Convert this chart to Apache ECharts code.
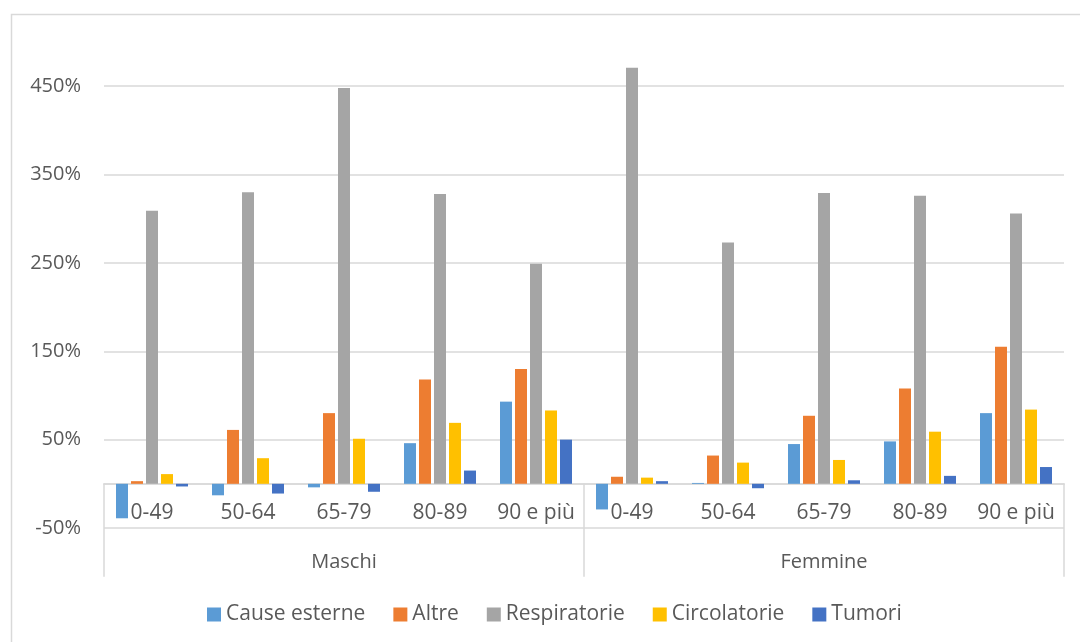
<!DOCTYPE html>
<html>
<head>
<meta charset="utf-8">
<script src="https://cdn.jsdelivr.net/npm/echarts@6/dist/echarts.min.js"></script>
<style>
  html, body { margin: 0; padding: 0; background: #ffffff; }
  #chart { width: 1080px; height: 642px; }
</style>
</head>
<body>
<div id="chart"></div>
<script>
// Age bands, repeated for each sex group
const ageBands = ['0-49', '50-64', '65-79', '80-89', '90 e più'];
const sexGroups = ['Maschi', 'Femmine'];
const categories = sexGroups.flatMap(() => ageBands);

// Percentage change by cause of death (Maschi first, then Femmine)
const causeEsterne = [-39, -13, -4, 46, 93, -29, 1, 45, 48, 80];
const altre        = [3, 61, 80, 118, 130, 8, 32, 77, 108, 155];
const respiratorie = [309, 330, 448, 328, 249, 471, 273, 329, 326, 306];
const circolatorie = [11, 29, 51, 69, 83, 7, 24, 27, 59, 84];
const tumori       = [-3, -11, -9, 15, 50, 3, -5, 4, 9, 19];

// Value-axis ticks
const yMin = -50;
const yMax = 500;
const yStep = 100;

const seriesDefs = [
  { name: 'Cause esterne', data: causeEsterne, color: '#5B9BD5' },
  { name: 'Altre',         data: altre,        color: '#ED7D31' },
  { name: 'Respiratorie',  data: respiratorie, color: '#A5A5A5' },
  { name: 'Circolatorie',  data: circolatorie, color: '#FFC000' },
  { name: 'Tumori',        data: tumori,       color: '#4472C4' }
];

const FONT = '"Open Sans", "Noto Sans", sans-serif';
const TXT = '#595959';
const LINE = '#d9d9d9';

const GRID_TOP = 42;
const GRID_BOTTOM_Y = 528;
// distance from the plot bottom (yMin) up to the zero line
const zeroLift = (GRID_BOTTOM_Y - GRID_TOP) * (0 - yMin) / (yMax - yMin);

const chart = echarts.init(document.getElementById('chart'), null, { renderer: 'canvas' });

// one colour per split line; the line at the axis maximum stays hidden
const splitColors = [];
for (let v = yMin; v < yMax; v += yStep) splitColors.push(LINE);
splitColors.push('rgba(0,0,0,0)');

chart.setOption({
  animation: false,
  backgroundColor: '#ffffff',
  textStyle: { fontFamily: FONT },
  graphic: [{
    type: 'rect',
    shape: { x: 11.5, y: 14.5, width: 1100, height: 700 },
    style: { fill: 'none', stroke: LINE, lineWidth: 1.5 },
    silent: true,
    z: -10
  }],
  grid: { left: 104, right: 16, top: GRID_TOP, bottom: 642 - GRID_BOTTOM_Y, containLabel: false },
  legend: {
    data: seriesDefs.map(s => s.name),
    left: 207,
    top: 604,
    padding: 0,
    itemWidth: 14,
    itemHeight: 14,
    itemGap: 28,
    icon: 'rect',
    textStyle: { fontFamily: FONT, fontSize: 21, color: TXT }
  },
  xAxis: [
    {
      type: 'category',
      data: categories,
      position: 'bottom',
      offset: -zeroLift,
      axisLine: { onZero: false, lineStyle: { color: LINE, width: 1.5 } },
      axisTick: { show: false },
      axisLabel: {
        fontFamily: FONT, fontSize: 21, color: TXT,
        margin: 19, interval: 0
      },
      splitLine: { show: false }
    },
    {
      type: 'category',
      data: sexGroups,
      position: 'bottom',
      offset: -zeroLift,
      axisLine: { onZero: false, lineStyle: { color: LINE, width: 1.5 } },
      axisTick: { show: true, length: 93, lineStyle: { color: LINE, width: 1.5 } },
      axisLabel: {
        fontFamily: FONT, fontSize: 20, color: TXT,
        margin: 68, interval: 0
      },
      splitLine: { show: false }
    }
  ],
  yAxis: {
    type: 'value',
    min: yMin,
    max: yMax,
    interval: yStep,
    axisLine: { show: false },
    axisTick: { show: false },
    axisLabel: {
      fontFamily: FONT, fontSize: 20, color: TXT, margin: 23,
      formatter: v => (v === yMax ? '' : v + '%')
    },
    splitLine: { show: true, lineStyle: { color: splitColors, width: 1.5 } }
  },
  series: seriesDefs.map(s => ({
    name: s.name,
    type: 'bar',
    xAxisIndex: 0,
    data: s.data,
    barWidth: 12,
    barGap: '25%',
    itemStyle: { color: s.color },
    emphasis: { disabled: true }
  }))
});
</script>
</body>
</html>
